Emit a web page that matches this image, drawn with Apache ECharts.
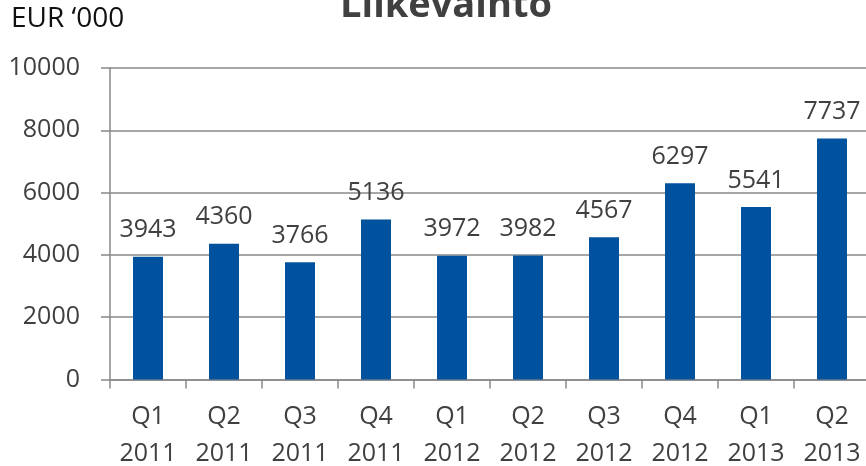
<!DOCTYPE html>
<html>
<head>
<meta charset="utf-8">
<script src="https://cdn.jsdelivr.net/npm/echarts@6/dist/echarts.min.js"></script>
<style>
html,body{margin:0;padding:0;background:#fff;}
#chart{width:866px;height:466px;}
</style>
</head>
<body>
<div id="chart"></div>
<script>
var quarters = ['Q1','Q2','Q3','Q4','Q1','Q2','Q3','Q4','Q1','Q2'];
var years = ['2011','2011','2011','2011','2012','2012','2012','2012','2013','2013'];
var values = [3943, 4360, 3766, 5136, 3972, 3982, 4567, 6297, 5541, 7737];
var titleText = 'Liikevaihto';
var unitText = 'EUR \u2018000';

var categories = quarters.map(function(q, i){ return q + '\n' + years[i]; });
var FONT = '"Open Sans", "Noto Sans", sans-serif';
var chart = echarts.init(document.getElementById('chart'), null, {renderer:'canvas'});
chart.setOption({
  animation: false,
  backgroundColor: '#ffffff',
  title: {
    text: titleText,
    left: 446,
    textAlign: 'center',
    top: -13,
    padding: 0,
    textStyle: {fontFamily: FONT, fontWeight: 'bold', fontSize: 38, color: '#404040'}
  },
  graphic: [{
    type: 'text',
    left: 11,
    top: 5,
    style: {text: unitText, font: '28px ' + FONT, fill: '#111111'}
  }],
  grid: {left: 110, top: 68, width: 760, height: 311.5, containLabel: false, outerBoundsMode: 'none'},
  xAxis: {
    type: 'category',
    data: categories,
    axisLine: {show: true, lineStyle: {color: '#898989', width: 1.5}},
    axisTick: {show: true, inside: false, length: 9, alignWithLabel: false, lineStyle: {color: '#898989', width: 1.5}},
    axisLabel: {interval: 0, margin: 19, fontFamily: FONT, fontSize: 25, color: '#404040', lineHeight: 37, hideOverlap: false},
    splitLine: {show: false}
  },
  yAxis: {
    type: 'value',
    min: 0, max: 10000, interval: 2000,
    axisLine: {show: true, lineStyle: {color: '#898989', width: 1.5}},
    axisTick: {show: true, inside: false, length: 9, lineStyle: {color: '#898989', width: 1.5}},
    axisLabel: {margin: 30, fontFamily: FONT, fontSize: 25, color: '#404040', formatter: function(v){ return String(v); }},
    splitLine: {show: true, lineStyle: {color: '#898989', width: 1.5}}
  },
  series: [{
    type: 'bar',
    data: values,
    barWidth: 30,
    itemStyle: {color: '#00529F'},
    label: {show: true, position: 'top', distance: 14, fontFamily: FONT, fontSize: 25, color: '#404040'}
  }]
});
</script>
</body>
</html>
